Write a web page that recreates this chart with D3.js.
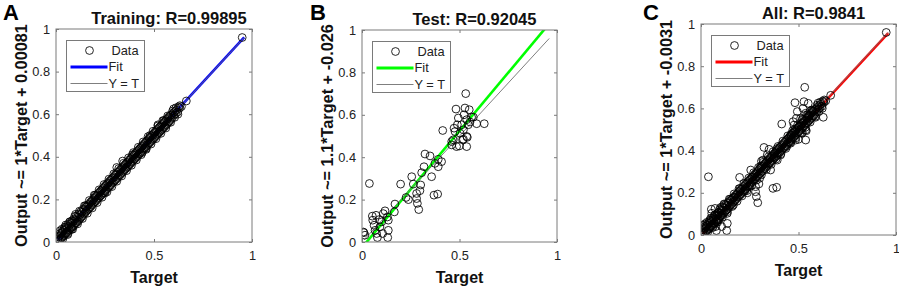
<!DOCTYPE html>
<html>
<head>
<meta charset="utf-8">
<script src="https://cdn.jsdelivr.net/npm/d3@7"></script>
<style>
  html, body { margin: 0; padding: 0; background: #fff; }
  svg { display: block; font-family: "Liberation Sans", Arial, sans-serif; }
</style>
</head>
<body>
<svg id="chart" width="899" height="288"></svg>
<script>
// ---------------- DATA ----------------
const panelLetters = ["A", "B", "C"];
const panelTitles = ["Training: R=0.99895", "Test: R=0.92045", "All: R=0.9841"];
const yAxisLabels = ["Output ~= 1*Target + 0.00081", "Output ~= 1.1*Target + -0.026", "Output ~= 1*Target + -0.0031"];
const xAxisLabel = "Target";
const fitSlopes = [1, 1.1, 1];
const fitIntercepts = [0.00081, -0.026, -0.0031];
const fitRange = [0.01, 0.96];
const fitColors = ["#0000ff", "#00ff00", "#ff0000"];
const xTicks = [0, 0.5, 1];
const xTickLabels = ["0", "0.5", "1"];
const yTicks = [0, 0.2, 0.4, 0.6, 0.8, 1];
const yTickLabels = ["0", "0.2", "0.4", "0.6", "0.8", "1"];
const legendLabels = ["Data", "Fit", "Y = T"];

// Training set: [target, output]
const trainData = [
[0.010,0.013],[0.012,0.004],[0.015,0.024],[0.018,0.009],[0.020,0.052],[0.022,0.031],[0.025,0.016],[0.027,0.041],
[0.030,0.020],[0.032,0.047],[0.035,0.026],[0.037,0.055],[0.040,0.031],[0.042,0.063],[0.045,0.036],[0.047,0.058],
[0.050,0.040],[0.052,0.072],[0.055,0.045],[0.057,0.066],[0.060,0.050],[0.062,0.083],[0.065,0.055],[0.067,0.075],
[0.070,0.057],[0.072,0.094],[0.075,0.065],[0.077,0.088],[0.080,0.069],[0.082,0.100],[0.085,0.071],[0.087,0.096],
[0.090,0.077],[0.092,0.108],[0.095,0.083],[0.097,0.103],[0.100,0.089],[0.103,0.121],[0.106,0.092],[0.109,0.116],
[0.112,0.098],[0.115,0.131],[0.118,0.106],[0.121,0.127],[0.124,0.111],[0.127,0.143],[0.130,0.118],[0.133,0.139],
[0.136,0.123],[0.139,0.154],[0.142,0.131],[0.145,0.151],[0.148,0.136],[0.151,0.163],[0.154,0.144],[0.157,0.168],
[0.160,0.149],[0.163,0.174],[0.166,0.155],[0.169,0.178],[0.172,0.161],[0.175,0.186],[0.178,0.167],[0.181,0.191],
[0.184,0.174],[0.187,0.196],[0.190,0.181],[0.193,0.204],[0.196,0.186],[0.199,0.209],[0.202,0.191],[0.205,0.216],
[0.208,0.197],[0.211,0.221],[0.214,0.204],[0.217,0.229],[0.220,0.208],[0.223,0.234],[0.226,0.216],[0.229,0.241],
[0.232,0.221],[0.235,0.246],[0.238,0.228],[0.241,0.253],[0.244,0.232],[0.247,0.259],[0.250,0.238],[0.253,0.265],
[0.256,0.246],[0.259,0.271],[0.262,0.251],[0.265,0.276],[0.268,0.258],[0.271,0.283],[0.274,0.262],[0.277,0.289],
[0.280,0.268],[0.283,0.294],[0.286,0.276],[0.289,0.300],[0.292,0.281],[0.295,0.306],[0.298,0.286],[0.301,0.314],
[0.304,0.292],[0.307,0.319],[0.310,0.298],[0.313,0.326],[0.316,0.304],[0.319,0.330],[0.322,0.311],[0.325,0.336],
[0.328,0.316],[0.331,0.342],[0.334,0.322],[0.337,0.349],[0.340,0.328],[0.343,0.354],[0.346,0.334],[0.349,0.360],
[0.352,0.341],[0.355,0.366],[0.358,0.346],[0.361,0.372],[0.364,0.352],[0.367,0.376],[0.370,0.358],[0.373,0.384],
[0.376,0.364],[0.379,0.390],[0.382,0.370],[0.385,0.396],[0.388,0.376],[0.391,0.402],[0.394,0.382],[0.397,0.408],
[0.400,0.388],[0.403,0.414],[0.406,0.394],[0.409,0.420],[0.412,0.400],[0.415,0.426],[0.418,0.406],[0.421,0.432],
[0.424,0.412],[0.427,0.438],[0.430,0.418],[0.433,0.444],[0.436,0.424],[0.439,0.450],[0.442,0.430],[0.445,0.456],
[0.448,0.436],[0.451,0.462],[0.454,0.442],[0.457,0.468],[0.460,0.448],[0.463,0.474],[0.466,0.454],[0.469,0.480],
[0.472,0.460],[0.475,0.486],[0.478,0.466],[0.481,0.492],[0.484,0.472],[0.487,0.498],[0.490,0.478],[0.493,0.504],
[0.496,0.484],[0.499,0.510],[0.502,0.490],[0.505,0.516],[0.508,0.496],[0.511,0.522],[0.514,0.502],[0.517,0.528],
[0.520,0.508],[0.523,0.534],[0.526,0.514],[0.529,0.540],[0.532,0.520],[0.535,0.546],[0.538,0.526],[0.541,0.552],
[0.544,0.532],[0.547,0.558],[0.550,0.538],[0.553,0.564],[0.556,0.544],[0.559,0.570],[0.562,0.550],[0.565,0.576],
[0.568,0.556],[0.571,0.582],[0.574,0.562],[0.577,0.588],[0.580,0.568],[0.583,0.594],[0.586,0.576],[0.590,0.598],
[0.594,0.584],[0.598,0.606],[0.602,0.596],[0.606,0.612],[0.610,0.602],[0.615,0.620],[0.620,0.610],[0.625,0.634],
[0.632,0.640],[0.640,0.636],[0.665,0.662],[0.950,0.960],
[0.310,0.350],[0.340,0.380],[0.440,0.420],[0.460,0.440],[0.150,0.170],[0.100,0.130],[0.050,0.080],[0.080,0.060],
[0.520,0.550],[0.550,0.570],[0.030,0.060],[0.060,0.035],[0.200,0.220],[0.250,0.230],[0.390,0.410],[0.480,0.500],
[0.020,0.040],[0.035,0.015],[0.045,0.070],[0.060,0.040],[0.070,0.095],[0.085,0.060],[0.095,0.120],[0.110,0.085],
[0.120,0.145],[0.135,0.110],[0.145,0.170],[0.160,0.135],[0.170,0.195],[0.185,0.160],[0.195,0.220],[0.210,0.185],
[0.220,0.245],[0.235,0.210],[0.245,0.270],[0.260,0.235],[0.270,0.295],[0.285,0.260],[0.295,0.320],[0.310,0.285],
[0.320,0.345],[0.335,0.310],[0.345,0.370],[0.360,0.335],[0.370,0.395],[0.385,0.360],[0.395,0.420],[0.410,0.385],
[0.420,0.445],[0.435,0.410],[0.445,0.470],[0.460,0.435],[0.470,0.495],[0.485,0.460],[0.495,0.520],[0.510,0.485],
[0.520,0.545],[0.535,0.510],[0.545,0.570],[0.560,0.535],[0.570,0.592],[0.585,0.562],[0.595,0.615],[0.605,0.585],
[0.612,0.630],[0.622,0.600],[0.630,0.628],[0.600,0.625]
];

// Test set: [target, output]
const testData = [
[0.038,0.276],[0.010,0.044],[0.007,0.047],[0.015,0.032],[0.053,0.122],[0.055,0.103],[0.062,0.079],[0.067,0.055],
[0.075,0.040],[0.079,0.021],[0.092,0.071],[0.101,0.095],[0.109,0.134],[0.118,0.147],[0.130,0.118],[0.135,0.103],
[0.135,0.055],[0.132,0.021],[0.106,0.040],[0.089,0.106],[0.072,0.126],[0.169,0.179],[0.166,0.142],[0.198,0.273],
[0.226,0.210],[0.238,0.200],[0.255,0.308],[0.263,0.273],[0.280,0.205],[0.284,0.182],[0.291,0.153],[0.301,0.269],
[0.297,0.242],[0.280,0.229],[0.306,0.327],[0.318,0.355],[0.323,0.415],[0.349,0.406],[0.357,0.308],[0.369,0.221],
[0.388,0.226],[0.374,0.371],[0.391,0.390],[0.391,0.355],[0.408,0.379],[0.414,0.526],[0.460,0.474],[0.468,0.482],
[0.472,0.537],[0.482,0.627],[0.494,0.585],[0.499,0.453],[0.503,0.513],[0.511,0.553],[0.520,0.529],[0.523,0.600],
[0.528,0.632],[0.532,0.700],[0.537,0.498],[0.537,0.577],[0.545,0.553],[0.550,0.624],[0.554,0.566],[0.540,0.494],
[0.537,0.450],[0.516,0.482],[0.485,0.450],[0.477,0.521],[0.571,0.589],[0.588,0.558],[0.627,0.558],[0.562,0.589],
[0.489,0.553],[0.520,0.485],[0.460,0.458]
];

const panelData = [trainData, testData, trainData.concat(testData)];

// ---------------- LAYOUT ----------------
const boxes = [
  { x0: 56,  x1: 252, y0: 242, y1: 29 },
  { x0: 362, x1: 557, y0: 242, y1: 30 },
  { x0: 701, x1: 896, y0: 235, y1: 24 }
];
const letterX = [3, 310, 643];

const svg = d3.select("#chart");
const axisColor = "#7a7a7a";
const textColor = "#222";
const smallFont = "12.8px";

boxes.forEach((b, i) => {
  const x = d3.scaleLinear().domain([0, 1]).range([b.x0, b.x1]);
  const y = d3.scaleLinear().domain([0, 1]).range([b.y0, b.y1]);
  const g = svg.append("g");

  const clipId = "clip" + i;
  svg.append("clipPath").attr("id", clipId)
    .append("rect").attr("x", b.x0).attr("y", b.y1)
    .attr("width", b.x1 - b.x0).attr("height", b.y0 - b.y1);

  g.append("rect").attr("x", b.x0).attr("y", b.y1)
    .attr("width", b.x1 - b.x0).attr("height", b.y0 - b.y1)
    .attr("fill", "#fff");

  const plot = g.append("g").attr("clip-path", `url(#${clipId})`);

  const line = d3.line().x(d => x(d[0])).y(d => y(d[1]));
  const fitPts = fitRange.map(t => [t, fitSlopes[i] * t + fitIntercepts[i]]);
  plot.append("path").attr("d", line(fitPts))
    .attr("stroke", fitColors[i]).attr("stroke-width", 2.6).attr("fill", "none");
  plot.append("path").attr("d", line(fitRange.map(t => [t, t])))
    .attr("stroke", "#707070").attr("stroke-width", 0.9).attr("fill", "none");

  plot.selectAll("circle").data(panelData[i]).join("circle")
    .attr("cx", d => x(d[0])).attr("cy", d => y(d[1])).attr("r", 3.9)
    .attr("fill", "none").attr("stroke", "#000").attr("stroke-width", 0.85);

  const styleAxis = sel => {
    sel.select(".domain").remove();
    sel.selectAll(".tick line").attr("stroke", axisColor);
    sel.selectAll(".tick text").attr("fill", textColor)
      .style("font-size", smallFont).style("font-family", '"Liberation Sans", Arial, sans-serif');
  };
  g.append("g").attr("transform", `translate(${b.x0},0)`)
    .call(d3.axisLeft(y).tickValues(yTicks).tickFormat((d, k) => yTickLabels[k]).tickSizeInner(-3).tickSizeOuter(0).tickPadding(6))
    .call(styleAxis);
  g.append("g").attr("transform", `translate(${b.x1},0)`)
    .call(d3.axisRight(y).tickValues(yTicks).tickFormat("").tickSizeInner(-3).tickSizeOuter(0))
    .call(styleAxis);
  g.append("g").attr("transform", `translate(0,${b.y0})`)
    .call(d3.axisBottom(x).tickValues(xTicks).tickFormat((d, k) => xTickLabels[k]).tickSizeInner(-3).tickSizeOuter(0).tickPadding(9))
    .call(styleAxis);
  g.append("g").attr("transform", `translate(0,${b.y1})`)
    .call(d3.axisTop(x).tickValues(xTicks).tickFormat("").tickSizeInner(-3).tickSizeOuter(0))
    .call(styleAxis);

  g.append("rect").attr("x", b.x0).attr("y", b.y1)
    .attr("width", b.x1 - b.x0).attr("height", b.y0 - b.y1)
    .attr("fill", "none").attr("stroke", axisColor).attr("stroke-width", 1);

  // Legend
  const lx = b.x0 + 10.5, ly = b.y1 + 11.5, lw = 78, lh = 51;
  const lg = g.append("g");
  lg.append("rect").attr("x", lx).attr("y", ly).attr("width", lw).attr("height", lh)
    .attr("fill", "#fff").attr("stroke", axisColor).attr("stroke-width", 1);
  const rows = [ly + 10, ly + 26.5, ly + 43];
  lg.append("circle").attr("cx", lx + 23).attr("cy", rows[0]).attr("r", 3.9)
    .attr("fill", "none").attr("stroke", "#000").attr("stroke-width", 0.85);
  lg.append("line").attr("x1", lx + 4).attr("x2", lx + 41).attr("y1", rows[1]).attr("y2", rows[1])
    .attr("stroke", fitColors[i]).attr("stroke-width", 2.8);
  lg.append("line").attr("x1", lx + 4).attr("x2", lx + 41).attr("y1", rows[2]).attr("y2", rows[2])
    .attr("stroke", "#707070").attr("stroke-width", 0.9);
  legendLabels.forEach((t, k) => {
    lg.append("text").attr("x", lx + (k === 0 ? 45 : 42)).attr("y", rows[k]).attr("dy", "0.35em")
      .attr("fill", textColor).style("font-size", smallFont).text(t);
  });

  g.append("text").attr("x", (b.x0 + b.x1) / 2 + 15).attr("y", b.y1 - 5)
    .attr("text-anchor", "middle").attr("font-weight", "bold")
    .attr("fill", "#111").style("font-size", "16.5px").text(panelTitles[i]);

  g.append("text").attr("x", (b.x0 + b.x1) / 2).attr("y", b.y0 + 41)
    .attr("text-anchor", "middle").attr("font-weight", "bold")
    .attr("fill", "#111").style("font-size", "16px").text(xAxisLabel);
  g.append("text")
    .attr("transform", `translate(${b.x0 - 35},${(b.y0 + b.y1) / 2}) rotate(-90)`)
    .attr("dy", "0.35em")
    .attr("text-anchor", "middle").attr("font-weight", "bold")
    .attr("fill", "#111").style("font-size", "16.3px").text(yAxisLabels[i]);

  svg.append("text").attr("x", letterX[i]).attr("y", 19.5)
    .attr("font-weight", "bold").attr("fill", "#000")
    .style("font-size", "22px").text(panelLetters[i]);
});
</script>
</body>
</html>
